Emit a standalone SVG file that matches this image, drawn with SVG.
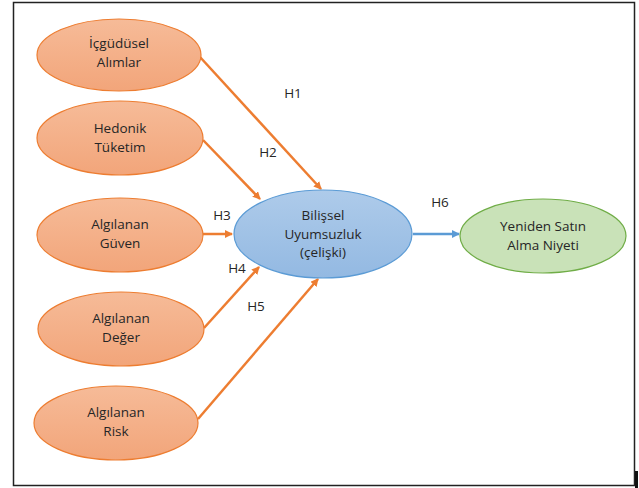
<svg xmlns="http://www.w3.org/2000/svg" width="639" height="488" viewBox="0 0 639 488">
<defs>
<linearGradient id="gOr" x1="0" y1="0" x2="0" y2="1"><stop offset="0" stop-color="#f6bb98"/><stop offset="1" stop-color="#f2a57a"/></linearGradient>
<linearGradient id="gBl" x1="0" y1="0" x2="0" y2="1"><stop offset="0" stop-color="#aecbea"/><stop offset="1" stop-color="#93b9e2"/></linearGradient>
<marker id="aO" markerWidth="8" markerHeight="8" refX="7" refY="4" orient="auto" markerUnits="userSpaceOnUse"><path d="M0,0 L8,4 L0,8 Z" fill="#ed7d31"/></marker>
<marker id="aB" markerWidth="8" markerHeight="8" refX="7" refY="4" orient="auto" markerUnits="userSpaceOnUse"><path d="M0,0 L8,4 L0,8 Z" fill="#5b9bd5"/></marker>
</defs>
<style>
.t{font-family:"Open Sans","Liberation Sans",sans-serif;font-size:13.5px;fill:#262626;text-anchor:middle}
.or{fill:url(#gOr);stroke:#ed7d31;stroke-width:1.2}
.bl{fill:url(#gBl);stroke:#5b9bd5;stroke-width:1.2}
.gr{fill:#c9e2b8;stroke:#70ad47;stroke-width:1.2}
.co{stroke:#ed7d31;stroke-width:2.5;fill:none;marker-end:url(#aO)}
.cb{stroke:#5b9bd5;stroke-width:2.5;fill:none;marker-end:url(#aB)}
</style>
<rect x="0" y="0" width="639" height="488" fill="#fff"/>
<rect x="13.5" y="2.5" width="621" height="483" fill="none" stroke="#222" stroke-width="1.5"/>
<rect x="635" y="471" width="3" height="17" fill="#111"/>
<g id="connectors">
<line class="co" x1="200" y1="57" x2="321" y2="189"/>
<line class="co" x1="203" y1="140" x2="260" y2="199"/>
<line class="co" x1="203" y1="234" x2="232" y2="234"/>
<line class="co" x1="204" y1="328" x2="259" y2="267"/>
<line class="co" x1="198" y1="419" x2="318" y2="279"/>
<line class="cb" x1="413" y1="234" x2="459" y2="234"/>
<text class="t" x="293" y="98">H1</text>
<text class="t" x="268" y="157">H2</text>
<text class="t" x="222" y="220">H3</text>
<text class="t" x="237" y="273">H4</text>
<text class="t" x="256" y="311">H5</text>
<text class="t" x="440" y="207">H6</text>
</g>
<g id="n1"><ellipse class="or" cx="119" cy="55" rx="82" ry="36"/><text class="t" x="119" y="48">İçgüdüsel</text><text class="t" x="119" y="67">Alımlar</text></g>
<g id="n2"><ellipse class="or" cx="120" cy="138" rx="83" ry="37"/><text class="t" x="120" y="133">Hedonik</text><text class="t" x="120" y="152">Tüketim</text></g>
<g id="n3"><ellipse class="or" cx="120" cy="235" rx="83" ry="37"/><text class="t" x="120" y="229">Algılanan</text><text class="t" x="120" y="248">Güven</text></g>
<g id="n4"><ellipse class="or" cx="121" cy="329" rx="83" ry="37"/><text class="t" x="121" y="323">Algılanan</text><text class="t" x="121" y="342">Değer</text></g>
<g id="n5"><ellipse class="or" cx="116" cy="423" rx="82" ry="37"/><text class="t" x="116" y="417">Algılanan</text><text class="t" x="116" y="436">Risk</text></g>
<g id="n6"><ellipse class="bl" cx="323" cy="234" rx="89" ry="44"/><text class="t" x="323" y="220">Bilişsel</text><text class="t" x="323" y="239">Uyumsuzluk</text><text class="t" x="323" y="257">(çelişki)</text></g>
<g id="n7"><ellipse class="gr" cx="543" cy="236" rx="83" ry="37"/><text class="t" x="543" y="231">Yeniden Satın</text><text class="t" x="543" y="250">Alma Niyeti</text></g>
</svg>
